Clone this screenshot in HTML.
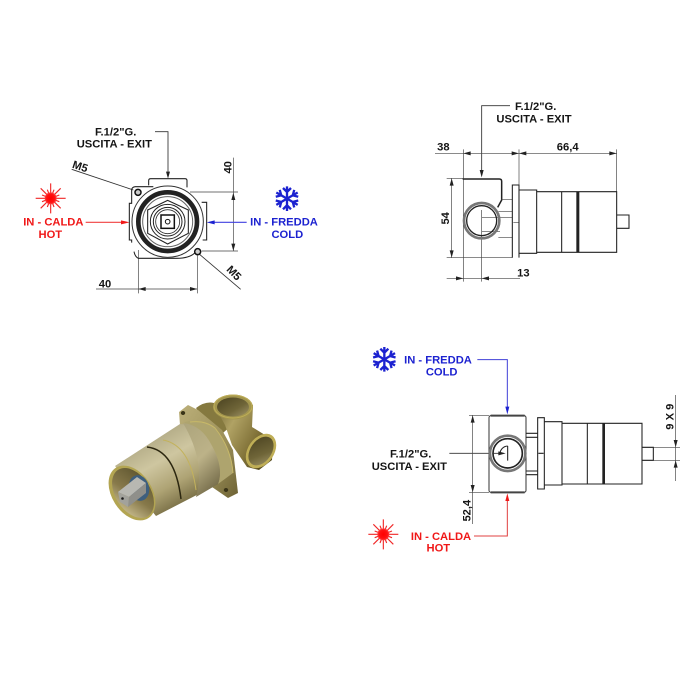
<!DOCTYPE html>
<html><head><meta charset="utf-8"><style>
html,body{margin:0;padding:0;background:#fff}
svg{display:block;filter:blur(.35px)}
text{font-family:"Liberation Sans",sans-serif;font-weight:bold;font-size:33.6px;fill:#151515;text-anchor:middle}
text.r{fill:#f01818}
text.b{fill:#1c22d0}
.l{fill:none;stroke:#333;stroke-width:2.6}
.t{fill:none;stroke:#444;stroke-width:2}
.k{fill:none;stroke:#222;stroke-width:3.2}
</style></head><body>
<svg width="700" height="700" viewBox="0 0 700 700" xmlns="http://www.w3.org/2000/svg">
<defs>
<radialGradient id="sun"><stop offset="0" stop-color="#f00"/><stop offset=".7" stop-color="#f11"/><stop offset="1" stop-color="#f44"/></radialGradient>
<g id="burst" fill="none">
<path stroke="#f02828" stroke-width="3.4" d="M0-45V45M-45 0H45M-30-30L30 30M-30 30L30-30"/>
<path stroke="#f02828" stroke-width="3.4" d="M-10-26L10 26M10-26L-10 26M-26-10L26 10M-26 10L26-10"/>
<circle r="18" fill="url(#sun)"/>
</g>
<g id="flake" fill="none" stroke-linecap="butt">
<path id="arm" d="M0 0V-37M-12-32L0-20L12-32"/>
<use href="#arm" transform="rotate(60)"/><use href="#arm" transform="rotate(120)"/><use href="#arm" transform="rotate(180)"/><use href="#arm" transform="rotate(240)"/><use href="#arm" transform="rotate(300)"/>
</g>
<linearGradient id="cyl" gradientUnits="userSpaceOnUse" x1="135" y1="435" x2="178" y2="512"><stop offset="0" stop-color="#a8a17c"/><stop offset=".4" stop-color="#cec6a0"/><stop offset=".7" stop-color="#aea374"/><stop offset="1" stop-color="#70663e"/></linearGradient>
<linearGradient id="cyl2" gradientUnits="userSpaceOnUse" x1="180" y1="425" x2="232" y2="480"><stop offset="0" stop-color="#aca47c"/><stop offset=".5" stop-color="#bcb288"/><stop offset="1" stop-color="#6a6140"/></linearGradient>
<linearGradient id="plate" x1="0" y1="0" x2="1" y2="1"><stop offset="0" stop-color="#bcb07a"/><stop offset=".6" stop-color="#9a8e58"/><stop offset="1" stop-color="#6d6234"/></linearGradient>
<linearGradient id="port" x1="0" y1="0" x2="1" y2=".6"><stop offset="0" stop-color="#6e6230"/><stop offset=".35" stop-color="#b0a264"/><stop offset=".7" stop-color="#85763c"/><stop offset="1" stop-color="#574c20"/></linearGradient>
<linearGradient id="bore" x1="0" y1="0" x2="1" y2="1"><stop offset="0" stop-color="#4a4220"/><stop offset=".6" stop-color="#6f6538"/><stop offset="1" stop-color="#a09568"/></linearGradient>
<linearGradient id="cup" x1=".2" y1="0" x2=".8" y2="1"><stop offset="0" stop-color="#5f5630"/><stop offset=".55" stop-color="#87794a"/><stop offset="1" stop-color="#c9bd90"/></linearGradient>
</defs>

<!-- TOP LEFT VIEW -->
<g transform="translate(20,110) scale(.33333)">
<text x="287" y="77">F.1/2"G.</text>
<text x="283" y="112">USCITA - EXIT</text>
<path class="l" d="M405 65H444V190"/><path d="M438 185H450L444 206Z" fill="#222"/>
<text transform="translate(177,180) rotate(18)">M5</text>
<path class="l" d="M155 178L340 240"/>
<text transform="translate(634,497) rotate(45)">M5</text>
<path class="l" d="M535 430L662 538"/>
<text transform="translate(635,172) rotate(-90)">40</text>
<path class="t" d="M640 143V422M510 246H654M545 423H654"/>
<path d="M634 270L640 248L646 270ZM634 401L640 423L646 401Z" fill="#222"/>
<text x="255" y="533">40</text>
<path class="t" d="M228 537H532M355 420V550M532 430V550"/>
<path d="M377 531L355 537L377 543ZM510 531L532 537L510 543Z" fill="#222"/>
<use href="#burst" transform="translate(92,265)"/>
<text class="r" x="100" y="347">IN - CALDA</text>
<text class="r" x="91" y="384">HOT</text>
<path d="M197 337H310" stroke="#f04040" stroke-width="3.5"/><path d="M303 331L329 337L303 343Z" fill="#f01818"/>
<use href="#flake" transform="translate(801,266)" stroke="#1c22d0" stroke-width="7"/>
<text class="b" x="792" y="347">IN - FREDDA</text>
<text class="b" x="802" y="384">COLD</text>
<path d="M680 337H580" stroke="#4040e0" stroke-width="3.5"/><path d="M584 331L560 337L584 343Z" fill="#1c22d0"/>
<!-- body -->
<path class="k" d="M386 226V212Q386 206 392 206H495Q501 206 501 212V232"/>
<path class="k" d="M345 230H400M345 230Q335 232 335 240V280H328V390H335V398M540 420H532Q516 445 470 445H355Q345 440 342 425M545 277H560V390H548"/>
<circle cx="443" cy="335" r="107" fill="#fff" stroke="#333" stroke-width="3"/>
<circle cx="443" cy="335" r="88" fill="none" stroke="#222" stroke-width="14"/>
<circle cx="443" cy="335" r="75" fill="none" stroke="#666" stroke-width="3"/>
<path class="k" d="M443 271L505 300V370L443 402L383 370V300Z"/>
<circle cx="443" cy="335" r="52" fill="none" stroke="#222" stroke-width="3"/>
<circle cx="443" cy="335" r="43" fill="none" stroke="#222" stroke-width="3"/>
<circle cx="443" cy="335" r="36" fill="none" stroke="#333" stroke-width="2.5"/>
<rect x="423" y="315" width="40" height="40" fill="#fff" stroke="#111" stroke-width="4.5"/>
<circle cx="443" cy="335" r="7" fill="#fff" stroke="#111" stroke-width="3"/>
<circle cx="354" cy="247" r="9" fill="#ccc" stroke="#111" stroke-width="4.5"/>
<circle cx="533" cy="425" r="9" fill="#ccc" stroke="#111" stroke-width="4.5"/>
</g>

<!-- TOP RIGHT VIEW -->
<g transform="translate(420,90) scale(.33333)">
<text x="347" y="60">F.1/2"G.</text>
<text x="342" y="97">USCITA - EXIT</text>
<path class="l" d="M270 47H185V245"/><path d="M179 240H191L185 262Z" fill="#222"/>
<text x="70" y="182">38</text>
<text x="443" y="182">66,4</text>
<path class="t" d="M45 190H590M130 178V575M297 178V288M590 178V305"/>
<path d="M152 184L130 190L152 196ZM275 184L297 190L275 196ZM319 184L297 190L319 196ZM568 184L590 190L568 196Z" fill="#222"/>
<text transform="translate(87,385) rotate(-90)">54</text>
<path class="t" d="M80 265H130M80 503H277M95 265V503"/>
<path d="M89 287L95 265L101 287ZM89 481L95 503L101 481Z" fill="#222"/>
<text x="310" y="560">13</text>
<path class="t" d="M80 565H300M185 360V575"/>
<path d="M108 559L130 565L108 571ZM207 559L185 565L207 571Z" fill="#222"/>
<path d="M128 267H238Q245 267 245 274V330L233 352" fill="none" stroke="#222" stroke-width="4.5"/>
<path class="t" d="M245 328H277M235 365H277M185 382H277M280 397H297M185 425H240M235 443H277"/>
<path class="k" d="M277 503V285H297V503"/>
<path class="k" d="M297 300H350V490H297M350 305H425V487H350M425 305H590V487H425"/>
<rect x="469" y="305" width="9" height="182" fill="#222"/>
<path class="k" d="M590 375H627V415H590"/>
<circle cx="185" cy="392" r="53" fill="none" stroke="#777" stroke-width="8"/>
<circle cx="185" cy="392" r="45" fill="none" stroke="#222" stroke-width="4"/>
</g>

<!-- BOTTOM RIGHT VIEW -->
<g transform="translate(360,340) scale(.33333)">
<use href="#flake" transform="translate(73,58)" stroke="#1c22d0" stroke-width="7"/>
<text class="b" x="234" y="70">IN - FREDDA</text>
<text class="b" x="245" y="107">COLD</text>
<path d="M352 59H442V205" fill="none" stroke="#4040d8" stroke-width="3"/><path d="M436 200H448L442 223Z" fill="#1c22d0"/>
<use href="#burst" transform="translate(70,583)"/>
<text class="r" x="243" y="600">IN - CALDA</text>
<text class="r" x="235" y="635">HOT</text>
<path d="M342 588H442V480" fill="none" stroke="#e04040" stroke-width="3"/><path d="M436 483H448L442 460Z" fill="#f01818"/>
<text x="152" y="353">F.1/2"G.</text>
<text x="148" y="390">USCITA - EXIT</text>
<path class="l" d="M268 340H425"/>
<text transform="translate(331,512) rotate(-90)">52,4</text>
<path class="t" d="M327 226H387M327 457H387M338 226V552"/>
<path d="M332 248L338 226L344 248ZM332 435L338 457L344 435Z" fill="#222"/>
<text transform="translate(940,230) rotate(-90)">9 X 9</text>
<path class="t" d="M947 165V423M850 322H960M850 361H960"/>
<path d="M941 300L947 322L953 300ZM941 383L947 361L953 383Z" fill="#222"/>
<rect x="387" y="227" width="111" height="230" rx="6" fill="none" stroke="#333" stroke-width="3"/>
<path d="M392 227H494M392 457H494" stroke="#444" stroke-width="6"/>
<path class="k" d="M498 280H533M498 292H533M498 393H533M498 404H533M535 340H551"/>
<path class="k" d="M533 233H553V447H533ZM553 245H606V435H553M606 250H682V432H606M682 250H846V432H682"/>
<rect x="727" y="250" width="8" height="182" fill="#222"/>
<path class="k" d="M846 322H880V361H846M880 322V361"/>
<circle cx="443" cy="340" r="53" fill="#fff" stroke="#777" stroke-width="8"/>
<circle cx="443" cy="340" r="44" fill="#fff" stroke="#222" stroke-width="5"/>
<path class="k" d="M420 340A24 24 0 0 1 443 318M443 318V362"/>
<path class="l" d="M400 340H430"/>
<path d="M415 334L437 340L415 346Z" fill="#222"/>
</g>

<!-- 3D RENDER -->
<g>
<path d="M196 408Q205 401 214 403L232 425L215 440Z" fill="#85793f"/>
<path d="M214 405H253L252 427L273 440L272 460L259 470L247 467L232 445L225 425Z" fill="url(#port)"/>
<path d="M179 412L188 405L198 410L222 430L233 450L238 493L228 498L212 487L200 478L180 425Z" fill="url(#plate)"/>
<ellipse cx="183" cy="413" rx="2.200" ry="2" fill="#3a3418"/><ellipse cx="226" cy="490" rx="2.200" ry="2" fill="#3a3418"/>
<path d="M185 422Q200 418 215 428Q233 450 233 473L218 484L175 440Z" fill="#aea46e"/>
<path d="M190 422Q205 420 215 428Q231 448 233 473" fill="none" stroke="#c7b868" stroke-width="1"/>
<ellipse cx="233" cy="407" rx="20" ry="12.500" fill="#a3964e"/>
<ellipse cx="233" cy="406.500" rx="19" ry="11.500" fill="none" stroke="#bfae58" stroke-width="1"/>
<ellipse cx="233" cy="407" rx="16" ry="9.500" fill="url(#bore)"/>
<ellipse cx="261" cy="451" rx="13" ry="19" transform="rotate(35 261 451)" fill="#bfae56"/>
<ellipse cx="261" cy="451" rx="10.500" ry="16" transform="rotate(35 261 451)" fill="url(#bore)"/>
<path d="M115 466L180 424Q200 424 212 446Q224 468 218 484L156 516Z" fill="url(#cyl)"/>
<path d="M183 423Q202 425 212 446Q224 468 218 484L196 497Q206 462 183 423Z" fill="url(#cyl2)"/>
<path d="M147 447Q175 450 181 499" fill="none" stroke="#2c2710" stroke-width="1.500"/>
<path d="M163 440Q190 445 196 490" fill="none" stroke="#c3b25c" stroke-width="1"/>
<ellipse cx="132" cy="493" rx="30" ry="20" transform="rotate(57 132 493)" fill="#b3a552"/>
<ellipse cx="133" cy="493" rx="27.500" ry="17.500" transform="rotate(57 133 493)" fill="url(#cup)"/>
<ellipse cx="139" cy="488" rx="10" ry="13" transform="rotate(-15 139 488)" fill="#3e5f7e"/>
<path d="M118 492L137 477L146 483L129 497Z" fill="#b8b8b2"/>
<path d="M129 497L146 483V493L128 507Z" fill="#8f8f8a"/>
<path d="M118 492L129 497L128 507L120 502Z" fill="#a2a29c"/>
<circle cx="122.500" cy="498.500" r="1.300" fill="#1c1c1c"/>
</g>
</svg>
</body></html>
